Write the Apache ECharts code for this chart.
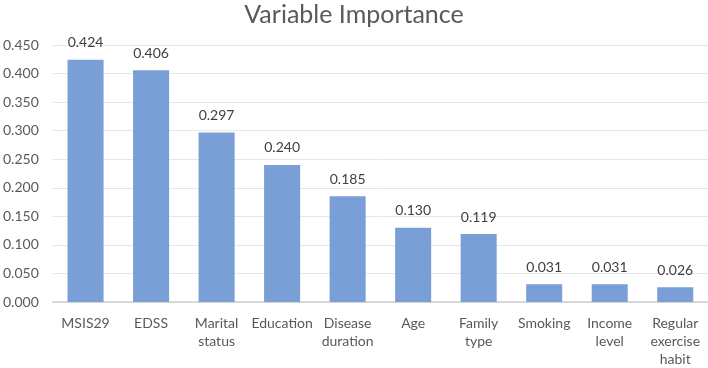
<!DOCTYPE html>
<html>
<head>
<meta charset="utf-8">
<script src="https://cdn.jsdelivr.net/npm/echarts@6/dist/echarts.min.js"></script>
<style>
  html, body { margin: 0; padding: 0; background: #fff; }
  #chart { width: 708px; height: 368px; }
</style>
</head>
<body>
<div id="chart"></div>
<script>
// 数据
const categories = ['MSIS29', 'EDSS', 'Marital\nstatus', 'Education', 'Disease\nduration',
  'Age', 'Family\ntype', 'Smoking', 'Income\nlevel', 'Regular\nexercise\nhabit']
const importance = [0.424, 0.406, 0.297, 0.240, 0.185, 0.130, 0.119, 0.031, 0.031, 0.026]
const yTicks = [0, 0.05, 0.1, 0.15, 0.2, 0.25, 0.3, 0.35, 0.4, 0.45]

const chart = echarts.init(document.getElementById('chart'))
chart.setOption({
  animation: false,
  textStyle: { fontFamily: 'Lato' },
  title: {
    text: 'Variable Importance',
    left: 'center',
    top: -3,
    textStyle: { fontFamily: 'Lato', fontSize: 25, fontWeight: 'normal', color: '#595959' }
  },
  grid: { left: 48, right: 0, top: 45, bottom: 60 },
  xAxis: {
    type: 'category',
    data: categories,
    axisTick: { show: false },
    axisLine: { lineStyle: { color: '#d0d0d0', width: 1.5 } },
    axisLabel: { color: '#595959', fontSize: 14, margin: 12, lineHeight: 18, interval: 0 }
  },
  yAxis: {
    type: 'value',
    min: yTicks[0],
    max: yTicks[yTicks.length - 1],
    interval: 0.05,
    axisLine: { show: false },
    axisTick: { show: false },
    splitLine: { lineStyle: { color: '#e6e6e6' } },
    axisLabel: {
      color: '#595959',
      fontSize: 14,
      margin: 14,
      formatter: v => v.toFixed(3)
    }
  },
  series: [{
    type: 'bar',
    data: importance,
    barCategoryGap: '45%',
    itemStyle: { color: '#7a9fd7' },
    label: {
      show: true,
      position: 'top',
      distance: 10,
      color: '#404040',
      fontSize: 14,
      formatter: p => p.value.toFixed(3)
    }
  }]
})
</script>
</body>
</html>
